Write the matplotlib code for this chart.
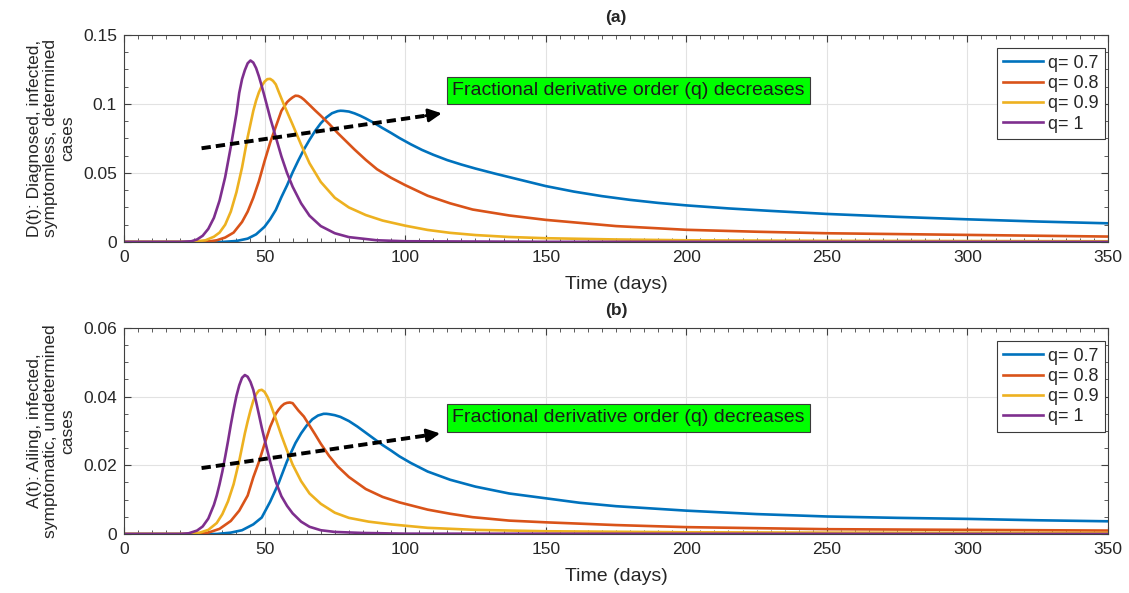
import matplotlib
matplotlib.use("Agg")
import matplotlib.pyplot as plt
from matplotlib.ticker import MultipleLocator, AutoMinorLocator, FuncFormatter

plt.rcParams['font.family'] = ['Liberation Sans', 'DejaVu Sans']

# ---------------- data: panel (a) D(t) ----------------
q_labels = ["q= 0.7", "q= 0.8", "q= 0.9", "q= 1"]
colors = ["#0072BD", "#D95319", "#EDB120", "#7E2F8E"]

tD_07 = [0, 35, 40, 44, 47, 50, 52, 54, 56, 58, 60, 62, 64, 66, 68, 70, 72, 74, 76, 77, 78, 80, 82, 84,
         86, 89, 92, 95, 98, 102, 106, 110, 115, 120, 125, 132, 140, 150, 160, 170, 180, 190, 200, 215,
         230, 250, 275, 300, 325, 350]
D_07 = [0, 0, 0.0007, 0.0024, 0.0055, 0.011, 0.0165, 0.0232, 0.0325, 0.041, 0.0505, 0.059, 0.067,
        0.074, 0.0805, 0.086, 0.0903, 0.0933, 0.0948, 0.0951, 0.095, 0.0945, 0.0932, 0.0915, 0.0895,
        0.0862, 0.0825, 0.079, 0.0753, 0.0708, 0.0667, 0.0632, 0.0593, 0.0561, 0.0532, 0.0495, 0.0455,
        0.0405, 0.0365, 0.0332, 0.0305, 0.0283, 0.0265, 0.0243, 0.0225, 0.0203, 0.0182, 0.0164, 0.0148,
        0.0135]

tD_08 = [0, 25, 30, 33, 36, 39, 42, 44, 46, 48, 50, 52, 54, 56, 58, 59, 60, 61, 62, 63, 64, 66, 68, 70,
         73, 76, 79, 82, 86, 90, 95, 100, 108, 116, 124, 137, 150, 175, 200, 225, 250, 300, 350]
D_08 = [0, 0, 0.0003, 0.0012, 0.0032, 0.0068, 0.0145, 0.022, 0.032, 0.044, 0.0585, 0.072, 0.0835,
        0.095, 0.1013, 0.1032, 0.1048, 0.106, 0.1058, 0.1048, 0.1032, 0.0993, 0.0953, 0.0915, 0.0855,
        0.079, 0.073, 0.067, 0.0595, 0.0527, 0.0465, 0.0412, 0.0335, 0.028, 0.0235, 0.0192, 0.016,
        0.0115, 0.0088, 0.0074, 0.0063, 0.0051, 0.0039]

tD_09 = [0, 22, 26, 29, 32, 34, 36, 38, 40, 42, 44, 46, 47, 48, 49, 50, 51, 52, 53, 54, 55, 57, 60, 63,
         66, 70, 75, 80, 86, 92, 100, 108, 116, 125, 137, 150, 175, 200, 250, 350]
D_09 = [0, 0, 0.0005, 0.0012, 0.0038, 0.0068, 0.0125, 0.022, 0.036, 0.054, 0.076, 0.095, 0.1025,
        0.1085, 0.113, 0.1162, 0.118, 0.1182, 0.1168, 0.1142, 0.109, 0.099, 0.085, 0.0705, 0.057,
        0.0435, 0.032, 0.025, 0.0195, 0.0155, 0.0118, 0.0087, 0.0066, 0.005, 0.0036, 0.0027, 0.0018,
        0.0012, 0.0008, 0.0005]

tD_10 = [0, 20, 24, 26, 28, 30, 32, 34, 36, 38, 40, 41, 42, 43, 44, 45, 46, 47, 48, 49, 50, 52, 54, 56,
         58, 60, 63, 66, 70, 75, 80, 90, 100, 150, 350]
D_10 = [0, 0, 0.0005, 0.0018, 0.0045, 0.0095, 0.0175, 0.030, 0.047, 0.069, 0.093, 0.108, 0.118,
        0.1245, 0.1295, 0.1315, 0.130, 0.126, 0.120, 0.113, 0.1055, 0.090, 0.076, 0.062, 0.050, 0.040,
        0.028, 0.019, 0.0115, 0.0063, 0.0035, 0.0012, 0.0005, 0.0001, 0]

# ---------------- data: panel (b) A(t) ----------------
tA_07 = [0, 33, 38, 42, 46, 49, 52, 55, 58, 61, 63, 65, 67, 69, 71, 72, 73, 75, 77, 80, 83, 86, 89, 92,
         95, 98, 102, 108, 116, 125, 137, 150, 162, 175, 200, 225, 250, 275, 300, 325, 350]
A_07 = [0, 0, 0.0004, 0.0011, 0.0028, 0.0048, 0.0094, 0.0148, 0.0212, 0.0265, 0.0293, 0.0316, 0.0334,
        0.0345, 0.035, 0.035, 0.0349, 0.0346, 0.0341, 0.0329, 0.0313, 0.0295, 0.0277, 0.0259, 0.0243,
        0.0226, 0.0207, 0.0182, 0.0158, 0.0138, 0.0118, 0.0104, 0.0091, 0.0081, 0.0068, 0.0058, 0.0051,
        0.0047, 0.0044, 0.004, 0.0037]

tA_08 = [0, 25, 30, 34, 38, 41, 44, 46, 48, 50, 52, 54, 55, 56, 57, 58, 59, 60, 62, 64, 66, 68, 70, 73,
         76, 80, 86, 92, 98, 108, 116, 124, 137, 150, 175, 200, 250, 300, 350]
A_08 = [0, 0, 0.0004, 0.0015, 0.0038, 0.0068, 0.0112, 0.0165, 0.021, 0.0262, 0.0312, 0.035, 0.0362,
        0.0372, 0.0379, 0.0382, 0.0383, 0.0381, 0.036, 0.0342, 0.0316, 0.029, 0.0263, 0.0227, 0.0197,
        0.0166, 0.0131, 0.0108, 0.0092, 0.0071, 0.0059, 0.0049, 0.0039, 0.0034, 0.0026, 0.002, 0.0014,
        0.0012, 0.001]

tA_09 = [0, 22, 27, 30, 33, 35, 37, 39, 41, 42, 43, 44, 45, 46, 47, 48, 49, 50, 51, 52, 54, 56, 58, 60,
         63, 66, 70, 75, 80, 87, 95, 108, 125, 150, 200, 250, 350]
A_09 = [0, 0, 0.0004, 0.0012, 0.0032, 0.0058, 0.0095, 0.0145, 0.0213, 0.0253, 0.0293, 0.0328, 0.036,
        0.0388, 0.0407, 0.0418, 0.042, 0.0414, 0.0400, 0.0381, 0.0335, 0.0287, 0.0243, 0.0202, 0.0154,
        0.0118, 0.0088, 0.0062, 0.0047, 0.0036, 0.0028, 0.0018, 0.0012, 0.0008, 0.0005, 0.0004, 0.0003]

tA_10 = [0, 20, 23, 26, 28, 30, 32, 33, 34, 35, 36, 37, 38, 39, 40, 41, 42, 43, 44, 45, 46, 47, 48, 49,
         50, 52, 54, 56, 58, 60, 63, 66, 70, 75, 85, 100, 350]
A_10 = [0, 0, 0.0002, 0.001, 0.0022, 0.0045, 0.0085, 0.0112, 0.0145, 0.0182, 0.0225, 0.027, 0.0318,
        0.0362, 0.0402, 0.0433, 0.0455, 0.0463, 0.0458, 0.0443, 0.042, 0.0385, 0.0348, 0.031, 0.0276,
        0.021, 0.0152, 0.011, 0.0082, 0.0060, 0.0036, 0.0021, 0.0011, 0.0006, 0.0003, 0.0001, 0]

panels = [
    dict(ax_rect=[0.1098, 0.592, 0.8716, 0.349], title="(a)",
         ylabel="D(t): Diagnosed, infected,\nsymptomless, determined\ncases",
         series=[(tD_07, D_07), (tD_08, D_08), (tD_09, D_09), (tD_10, D_10)],
         ylim=(0, 0.15), ystep=0.05,
         arrow=((27.6, 0.0679), (114.0, 0.0935)), box_xy=(116.8, 0.1098)),
    dict(ax_rect=[0.1098, 0.0995, 0.8716, 0.3474], title="(b)",
         ylabel="A(t): Ailing, infected,\nsymptomatic, undetermined\ncases",
         series=[(tA_07, A_07), (tA_08, A_08), (tA_09, A_09), (tA_10, A_10)],
         ylim=(0, 0.06), ystep=0.02,
         arrow=((27.6, 0.0192), (113.4, 0.0294)), box_xy=(116.8, 0.0339)),
]

fig = plt.figure(figsize=(11.29, 5.93), dpi=100)
FS = 12.5
txtc = "#262626"

for p in panels:
    ax = fig.add_axes(p["ax_rect"])
    for (t, v), lab, c in zip(p["series"], q_labels, colors):
        ax.plot(t, v, color=c, lw=1.9, label=lab, solid_joinstyle='round')
    ax.set_xlim(0, 350)
    ax.set_ylim(*p["ylim"])
    ax.xaxis.set_major_locator(MultipleLocator(50))
    ax.xaxis.set_minor_locator(AutoMinorLocator(10))
    ax.yaxis.set_major_locator(MultipleLocator(p["ystep"]))
    ax.yaxis.set_minor_locator(AutoMinorLocator(4))
    ax.yaxis.set_major_formatter(FuncFormatter(lambda y, pos: "%g" % round(y, 4)))
    ax.tick_params(which='both', direction='in', top=True, right=True, colors="#404040",
                   labelcolor=txtc, labelsize=FS)
    ax.tick_params(axis='x', which='major', pad=6)
    ax.tick_params(axis='y', which='major', pad=5)
    ax.tick_params(which='major', length=5, width=0.8)
    ax.tick_params(which='minor', length=2.8, width=0.6)
    ax.grid(True, which='major', color='#e2e2e2', lw=0.8)
    ax.set_axisbelow(True)
    for s in ax.spines.values():
        s.set_color('#404040')
        s.set_linewidth(0.8)
    ax.set_xlabel("Time (days)", fontsize=14, color=txtc, labelpad=8)
    ax.set_ylabel(p["ylabel"], fontsize=12.5, color=txtc, multialignment='center', linespacing=1.12)
    ax.yaxis.set_label_coords(-0.05, 0.5)
    ax.set_title(p["title"], fontsize=12.5, fontweight='bold', color=txtc, pad=9)

    (x0, y0), (x1, y1) = p["arrow"]
    fx = 0.93
    xm, ym = x0 + (x1 - x0) * fx, y0 + (y1 - y0) * fx
    ax.plot([x0, xm], [y0, ym], color='k', lw=2.8, linestyle=(0, (2.4, 1.3)), zorder=5)
    ax.annotate("", xy=(x1, y1), xytext=(xm - (x1 - x0) * 0.02, ym - (y1 - y0) * 0.02),
                arrowprops=dict(arrowstyle='-|>', color='k', lw=2.0, mutation_scale=20), zorder=6)

    bx, by = p["box_xy"]
    ax.text(bx, by, "Fractional derivative order (q) decreases", fontsize=14, color='#1a1a1a',
            ha='left', va='center', zorder=7,
            bbox=dict(boxstyle='square,pad=0.28', fc='#00ff00', ec='#3a3a3a', lw=0.8))

    leg = ax.legend(loc='upper right', bbox_to_anchor=(0.997, 0.935), fontsize=13,
                    frameon=True, fancybox=False, framealpha=1, edgecolor='#3a3a3a',
                    handlelength=2.2, handletextpad=0.3, labelspacing=0.18, borderpad=0.35,
                    borderaxespad=0.0)
    leg.get_frame().set_linewidth(0.8)
    for txt in leg.get_texts():
        txt.set_color(txtc)

fig.savefig("out.png", dpi=100)
